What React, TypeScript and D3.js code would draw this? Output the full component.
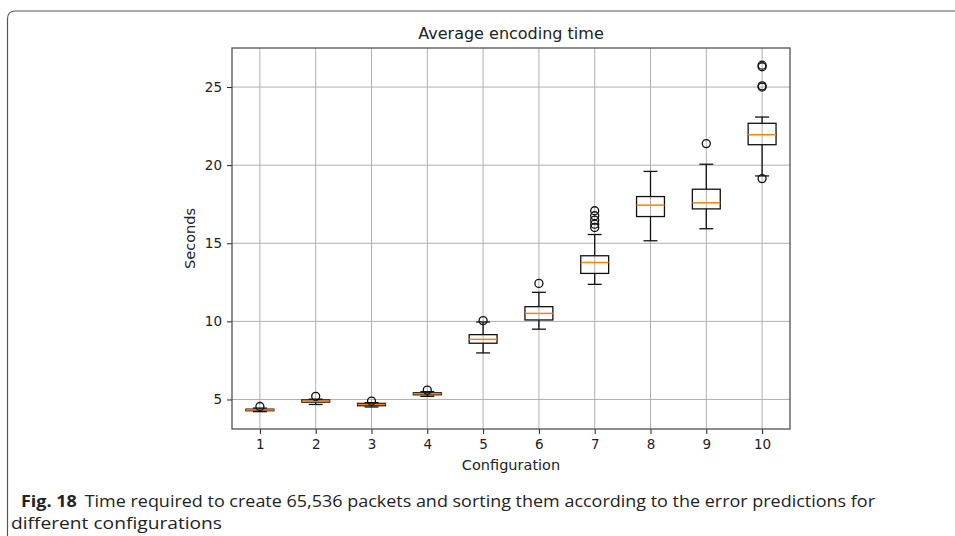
import React, { useEffect, useRef } from 'react';
import * as d3 from 'd3';

const configs = [1, 2, 3, 4, 5, 6, 7, 8, 9, 10];
const q1 = [4.28, 4.83, 4.6, 5.3, 8.6, 10.09, 13.07, 16.71, 17.2, 21.31];
const medians = [4.33, 4.9, 4.68, 5.37, 8.85, 10.51, 13.77, 17.44, 17.59, 21.95];
const q3 = [4.38, 4.97, 4.75, 5.43, 9.15, 10.94, 14.2, 17.99, 18.46, 22.68];
const whiskLow = [4.22, 4.68, 4.52, 5.2, 7.98, 9.5, 12.37, 15.16, 15.93, 19.31];
const whiskHigh = [4.45, 5.02, 4.8, 5.5, 9.96, 11.86, 15.56, 19.6, 20.06, 23.08];
const fliers = [
  [4.55],
  [5.2],
  [4.9],
  [5.6],
  [10.05],
  [12.43],
  [16.01, 16.22, 16.48, 16.76, 17.08],
  [],
  [21.38],
  [19.14, 25.0, 25.08, 26.3, 26.4],
];
const yTicks = [5, 10, 15, 20, 25];

const W = 955;
const H = 536;
const plot = { left: 232, right: 790, top: 48, bottom: 429 };
const font = 'DejaVu Sans, sans-serif';
const capFont = 'Open Sans, sans-serif';

export default function App() {
  const ref = useRef<SVGSVGElement>(null);

  useEffect(() => {
    if (!ref.current) return;
    const svg = d3.select(ref.current);
    svg.selectAll('*').remove();

    const x = d3.scaleLinear().domain([0.5, 10.5]).range([plot.left, plot.right]);
    const y = d3.scaleLinear().domain([3.11, 27.5]).range([plot.bottom, plot.top]);
    const step = x(2) - x(1);
    const boxW = step * 0.5;
    const capW = boxW / 2;

    // figure frame (top + left edge)
    svg
      .append('path')
      .attr('d', `M7.5,${H} L7.5,19 Q7.5,11 15.5,11 L${W},11`)
      .attr('fill', 'none')
      .attr('stroke', '#555')
      .attr('stroke-width', 1.2);

    // grid
    const grid = svg.append('g');
    grid
      .selectAll('line.gx')
      .data(configs)
      .enter()
      .append('line')
      .attr('x1', (d) => x(d))
      .attr('x2', (d) => x(d))
      .attr('y1', plot.top)
      .attr('y2', plot.bottom)
      .attr('stroke', '#b0b0b0')
      .attr('stroke-width', 1);
    grid
      .selectAll('line.gy')
      .data(yTicks)
      .enter()
      .append('line')
      .attr('x1', plot.left)
      .attr('x2', plot.right)
      .attr('y1', (d) => y(d))
      .attr('y2', (d) => y(d))
      .attr('stroke', '#b0b0b0')
      .attr('stroke-width', 1);

    // axes
    const xAxis = svg
      .append('g')
      .attr('transform', `translate(0,${plot.bottom})`)
      .call(d3.axisBottom(x).tickValues(configs).tickFormat(d3.format('d')).tickSize(5).tickPadding(5));
    const yAxis = svg
      .append('g')
      .attr('transform', `translate(${plot.left},0)`)
      .call(d3.axisLeft(y).tickValues(yTicks).tickSize(5).tickPadding(5));
    [xAxis, yAxis].forEach((a) => {
      a.select('.domain').remove();
      a.selectAll('.tick line').attr('stroke', '#222');
      a.selectAll('.tick text').attr('fill', '#222').style('font-family', font).style('font-size', '13.5px');
    });

    // boxes
    const g = svg.append('g');
    configs.forEach((c, i) => {
      const cx = x(c);
      const stroke = '#111';
      g.append('line')
        .attr('x1', cx).attr('x2', cx)
        .attr('y1', y(q1[i])).attr('y2', y(whiskLow[i]))
        .attr('stroke', stroke).attr('stroke-width', 1.3);
      g.append('line')
        .attr('x1', cx).attr('x2', cx)
        .attr('y1', y(q3[i])).attr('y2', y(whiskHigh[i]))
        .attr('stroke', stroke).attr('stroke-width', 1.3);
      [whiskLow[i], whiskHigh[i]].forEach((v) => {
        g.append('line')
          .attr('x1', cx - capW / 2).attr('x2', cx + capW / 2)
          .attr('y1', y(v)).attr('y2', y(v))
          .attr('stroke', stroke).attr('stroke-width', 1.3);
      });
      g.append('rect')
        .attr('x', cx - boxW / 2)
        .attr('y', y(q3[i]))
        .attr('width', boxW)
        .attr('height', Math.max(1, y(q1[i]) - y(q3[i])))
        .attr('fill', 'none')
        .attr('stroke', stroke)
        .attr('stroke-width', 1.3);
      g.append('line')
        .attr('x1', cx - boxW / 2).attr('x2', cx + boxW / 2)
        .attr('y1', y(medians[i])).attr('y2', y(medians[i]))
        .attr('stroke', '#ff7f0e').attr('stroke-width', 1.5);
      g.selectAll(null)
        .data(fliers[i])
        .enter()
        .append('circle')
        .attr('cx', cx)
        .attr('cy', (d) => y(d))
        .attr('r', 4)
        .attr('fill', 'none')
        .attr('stroke', stroke)
        .attr('stroke-width', 1.3);
    });

    // spines
    svg
      .append('rect')
      .attr('x', plot.left)
      .attr('y', plot.top)
      .attr('width', plot.right - plot.left)
      .attr('height', plot.bottom - plot.top)
      .attr('fill', 'none')
      .attr('stroke', '#444')
      .attr('stroke-width', 1.2);

    // title & labels
    svg
      .append('text')
      .attr('x', (plot.left + plot.right) / 2)
      .attr('y', 39)
      .attr('text-anchor', 'middle')
      .style('font-family', font)
      .style('font-size', '16px')
      .attr('fill', '#222')
      .text('Average encoding time');
    svg
      .append('text')
      .attr('x', (plot.left + plot.right) / 2)
      .attr('y', 470)
      .attr('text-anchor', 'middle')
      .style('font-family', font)
      .style('font-size', '14.5px')
      .attr('fill', '#222')
      .text('Configuration');
    svg
      .append('text')
      .attr('transform', `translate(195,${(plot.top + plot.bottom) / 2}) rotate(-90)`)
      .attr('text-anchor', 'middle')
      .style('font-family', font)
      .style('font-size', '14.5px')
      .attr('fill', '#222')
      .text('Seconds');

    // caption
    const cap = svg
      .append('text')
      .attr('x', 21)
      .attr('y', 507)
      .attr('textLength', 854)
      .attr('lengthAdjust', 'spacingAndGlyphs')
      .style('font-family', capFont)
      .style('font-size', '16px')
      .attr('fill', '#222');
    cap.append('tspan').style('font-weight', 'bold').text('Fig. 18');
    cap.append('tspan').attr('dx', 7).text('Time required to create 65,536 packets and sorting them according to the error predictions for');
    svg
      .append('text')
      .attr('x', 11)
      .attr('y', 529)
      .attr('textLength', 211)
      .attr('lengthAdjust', 'spacingAndGlyphs')
      .style('font-family', capFont)
      .style('font-size', '16px')
      .attr('fill', '#222')
      .text('different configurations');
  }, []);

  return (
    <div style={{ position: 'absolute', left: 0, top: 0, width: W, height: H, overflow: 'hidden', background: '#fff' }}>
      <svg ref={ref} width={W} height={H} style={{ display: 'block' }} />
    </div>
  );
}
